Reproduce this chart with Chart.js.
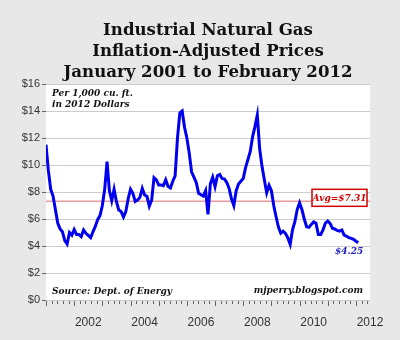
<!DOCTYPE html>
<html lang="en">
<head>
<meta charset="UTF-8" />
<title>Industrial Natural Gas Prices</title>
<script src="https://cdn.jsdelivr.net/npm/chart.js"></script>
<style>
  body { margin: 0; background: #e8e8e8; }
  .chart-box { width: 400px; height: 340px; }
</style>
</head>
<body>

<div class="chart-box">
  <canvas id="gasChart" width="400" height="340"></canvas>
</div>

<script>
// monthly prices Jan 2001 .. Feb 2012, $ per 1,000 cu. ft. (2012 dollars)
const prices = [
  11.50, 9.60, 8.20, 7.70, 6.70, 5.70, 5.26, 5.06, 4.40, 4.15, 5.00, 4.80,   // 2001
  5.23, 4.86, 4.86, 4.70, 5.19, 4.94, 4.78, 4.62, 5.05, 5.45, 5.95, 6.25,    // 2002
  7.00, 8.20, 10.25, 8.10, 7.35, 8.20, 7.28, 6.67, 6.55, 6.15, 6.55, 7.50,   // 2003
  8.20, 7.90, 7.30, 7.40, 7.60, 8.27, 7.78, 7.68, 6.95, 7.40, 9.06, 8.90,    // 2004
  8.52, 8.52, 8.47, 8.90, 8.40, 8.30, 8.80, 9.20, 12.00, 13.85, 14.00, 12.80, // 2005
  12.00, 10.90, 9.50, 9.10, 8.70, 7.90, 7.80, 7.70, 8.10, 6.35, 8.60, 9.10,  // 2006
  8.40, 9.20, 9.30, 9.00, 8.96, 8.70, 8.27, 7.50, 7.00, 8.10, 8.60, 8.80,    // 2007
  9.00, 9.80, 10.40, 11.00, 12.10, 12.84, 13.70, 11.20, 9.90, 8.90, 7.95, 8.50, // 2008
  8.10, 7.00, 6.17, 5.40, 4.95, 5.10, 4.94, 4.60, 4.12, 5.20, 5.80, 6.70,    // 2009
  7.20, 6.70, 6.00, 5.43, 5.38, 5.60, 5.78, 5.68, 4.85, 4.85, 5.20, 5.70,    // 2010
  5.85, 5.68, 5.31, 5.26, 5.15, 5.10, 5.19, 4.81, 4.72, 4.62, 4.57, 4.49,    // 2011
  4.35, 4.25                                                                 // 2012
];
const avgPrice = 7.31;
const lastPrice = 4.25;

// year labels sit in the middle of each year (months counted from Jan 2001)
const yearLabels = ['2002', '2004', '2006', '2008', '2010', '2012'];
const yearLabelPos = [18, 42, 66, 90, 114, 138];
const yTicks = [0, 2, 4, 6, 8, 10, 12, 14, 16];

const titleLines = ['Industrial Natural Gas', 'Inflation-Adjusted Prices', 'January 2001 to February 2012'];

const serif = '"DejaVu Serif", Georgia, serif';
const sans = '"Liberation Sans", Arial, sans-serif';

// grey page, white plot area, title, notes and x tick marks
const extras = {
  id: 'extras',
  beforeDraw(chart) {
    const { ctx, chartArea: a } = chart;
    ctx.save();
    ctx.fillStyle = '#e8e8e8';
    ctx.fillRect(0, 0, chart.width, chart.height);
    ctx.fillStyle = '#ffffff';
    ctx.fillRect(a.left, a.top, a.right - a.left, a.bottom - a.top);
    ctx.restore();
  },
  afterDraw(chart) {
    const { ctx, chartArea: a, scales: { x, y } } = chart;
    ctx.save();

    // title, centred a bit right of the plot middle like the original
    ctx.fillStyle = '#111';
    ctx.font = 'bold 16.6px ' + serif;
    ctx.textAlign = 'center';
    titleLines.forEach((t, i) => ctx.fillText(t, 208, 35 + i * 21));

    // x tick marks, long one at each year start
    ctx.strokeStyle = '#666';
    ctx.lineWidth = 1;
    for (let k = 0; k <= 57; k++) {
      const px = Math.round(x.getPixelForValue(k * 2.4)) + 0.5;
      const len = k % 5 === 0 ? 5 : 3;
      ctx.beginPath();
      ctx.moveTo(px, a.bottom + 1);
      ctx.lineTo(px, a.bottom + 1 + len);
      ctx.stroke();
    }

    ctx.fillStyle = '#111';
    ctx.font = 'italic bold 9px ' + serif;
    ctx.textAlign = 'left';
    ctx.fillText('Per 1,000 cu. ft.', a.left + 6, a.top + 12);
    ctx.fillText('in 2012 Dollars', a.left + 6, a.top + 23);
    ctx.fillText('Source: Dept. of Energy', a.left + 6, a.bottom - 6);
    ctx.textAlign = 'right';
    ctx.fillText('mjperry.blogspot.com', a.right - 7, a.bottom - 7);

    // average box
    const avgY = y.getPixelForValue(avgPrice);
    const bx = a.right - 58, by = avgY - 12, bw = 55, bh = 17;
    ctx.fillStyle = '#fff';
    ctx.fillRect(bx, by, bw, bh);
    ctx.strokeStyle = '#d00000';
    ctx.lineWidth = 1.5;
    ctx.strokeRect(bx, by, bw, bh);
    ctx.fillStyle = '#d00000';
    ctx.textAlign = 'center';
    ctx.textBaseline = 'middle';
    ctx.fillText('Avg=$' + avgPrice.toFixed(2), bx + bw / 2, by + bh / 2 + 1);

    // last value label
    const lx = x.getPixelForValue(prices.length - 1);
    ctx.fillStyle = '#2020c0';
    ctx.textAlign = 'right';
    ctx.textBaseline = 'alphabetic';
    ctx.fillText('$' + lastPrice.toFixed(2), lx + 5, y.getPixelForValue(lastPrice) + 11);

    ctx.restore();
  }
};

new Chart(document.getElementById('gasChart'), {
  type: 'line',
  data: {
    datasets: [
      {
        label: 'Price',
        data: prices.map((v, i) => ({ x: i, y: v })),
        borderColor: '#0000ee',
        borderWidth: 3,
        pointRadius: 0,
        tension: 0,
        fill: false,
        order: 1
      },
      {
        label: 'Average',
        data: [{ x: 0, y: avgPrice }, { x: 138, y: avgPrice }],
        borderColor: 'rgba(215, 90, 90, 0.6)',
        borderWidth: 1.5,
        pointRadius: 0,
        fill: false,
        order: 2
      }
    ]
  },
  options: {
    responsive: false,
    animation: false,
    layout: { padding: { left: 0, right: 30, top: 84, bottom: 0 } },
    plugins: {
      legend: { display: false },
      tooltip: { enabled: false },
      title: { display: false }
    },
    scales: {
      x: {
        type: 'linear',
        min: 0,
        max: 138,
        afterBuildTicks: s => { s.ticks = yearLabelPos.map(v => ({ value: v })); },
        afterFit: s => { s.height = 40; },
        ticks: {
          autoSkip: false,
          maxRotation: 0,
          padding: 7,
          color: '#333',
          font: { family: sans, size: 12 },
          callback: v => yearLabels[yearLabelPos.indexOf(v)]
        },
        grid: { display: false },
        border: { display: false }
      },
      y: {
        min: 0,
        max: 16,
        afterBuildTicks: s => { s.ticks = yTicks.map(v => ({ value: v })); },
        afterFit: s => { s.width = 46; },
        ticks: {
          padding: 2,
          color: '#333',
          font: { family: sans, size: 11 },
          callback: v => '$' + v
        },
        grid: { color: '#cccccc', tickColor: '#666', tickLength: 4 },
        border: { display: false }
      }
    }
  },
  plugins: [extras]
});
</script>
</body>
</html>
